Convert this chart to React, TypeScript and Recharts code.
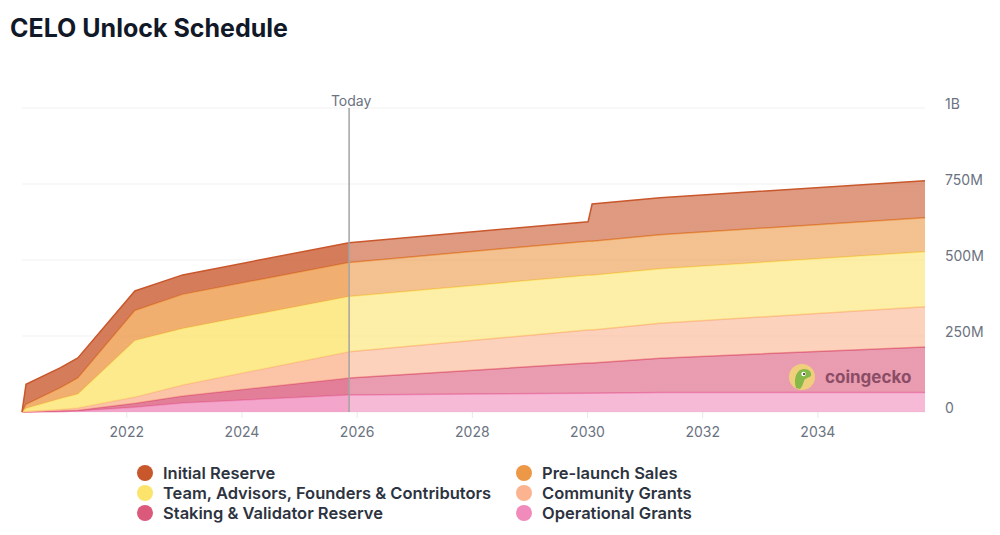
import React from "react";
import { AreaChart, Area, XAxis, YAxis, CartesianGrid, ReferenceLine } from "recharts";

// years (decimal) and unlocked tokens per allocation, in millions
const years = [2020.18, 2020.25, 2020.85, 2021.15, 2022.14, 2022.97, 2025.86, 2030.01, 2030.08, 2031.26, 2035.86];
const operationalGrants = [0, 0.5, 2, 3, 16, 30, 56, 62, 62, 64, 64];
const stakingReserve = [0, 0.5, 2, 3, 13, 23, 56, 99, 99, 113, 150];
const communityGrants = [0, 1, 4, 7, 20, 36, 86, 109, 109, 115, 132];
const teamAdvisors = [0, 10, 36, 46, 186, 186, 182, 180, 180, 179, 181];
const preLaunchSales = [0, 13, 36, 53, 99, 112, 112, 112, 112, 112, 112];
const initialReserve = [0, 66, 66, 66, 64, 64, 65, 64, 122, 122, 122];

const xTicks = [2022, 2024, 2026, 2028, 2030, 2032, 2034];
const yTicks = [0, 250, 500, 750, 1000];
const today = 2025.86;

// bottom of the stack first
const series = [
  { key: "operational", name: "Operational Grants", color: "#f08bbb", values: operationalGrants },
  { key: "staking", name: "Staking & Validator Reserve", color: "#db5a7c", values: stakingReserve },
  { key: "community", name: "Community Grants", color: "#fbb48f", values: communityGrants },
  { key: "team", name: "Team, Advisors, Founders & Contributors", color: "#fce46c", values: teamAdvisors },
  { key: "prelaunch", name: "Pre-launch Sales", color: "#ec9847", values: preLaunchSales },
  { key: "initial", name: "Initial Reserve", color: "#c9572c", values: initialReserve },
];

const legendOrder = ["initial", "prelaunch", "team", "community", "staking", "operational"];

const data = years.map((year, i) => {
  const row: Record<string, number> = { year };
  series.forEach((s) => (row[s.key] = s.values[i]));
  return row;
});

const formatY = (v: number) => (v === 0 ? "0" : v >= 1000 ? `${v / 1000}B` : `${v}M`);

const YTick = (props: any) => {
  const { x, y, payload } = props;
  return (
    <text x={x} y={y - 5} dominantBaseline="central" textAnchor="start" fill="#6b7280" fontSize={14}>
      {formatY(payload.value)}
    </text>
  );
};

const TodayLabel = (props: any) => {
  const { viewBox } = props;
  return (
    <text x={viewBox.x + 2} y={viewBox.y - 2} textAnchor="middle" fill="#6b7280" fontSize={14}>
      Today
    </text>
  );
};

// where "today" falls inside the plotted x range, for the fill fade
const todayOffset = (today - years[0]) / (years[years.length - 1] - years[0]);

const App = () => {
  const legendItems = legendOrder.map((k) => series.find((s) => s.key === k)!);
  return (
    <div style={{ position: "absolute", left: 0, top: 0, width: 1000, height: 535, background: "#fff", fontFamily: "Inter, sans-serif" }}>
      <div style={{ position: "absolute", left: 10, top: 16, fontSize: 25, lineHeight: "24px", fontWeight: 700, color: "#111827" }}>
        CELO Unlock Schedule
      </div>

      <AreaChart
        width={1000}
        height={535}
        data={data}
        margin={{ top: 108, right: 15, bottom: 93, left: 22 }}
        style={{ fontFamily: "Inter, sans-serif" }}
      >
        <defs>
          {series.map((s) => (
            <linearGradient key={s.key} id={`fill-${s.key}`} x1="0" y1="0" x2="1" y2="0">
              <stop offset={0} stopColor={s.color} stopOpacity={0.78} />
              <stop offset={todayOffset} stopColor={s.color} stopOpacity={0.78} />
              <stop offset={todayOffset} stopColor={s.color} stopOpacity={0.6} />
              <stop offset={1} stopColor={s.color} stopOpacity={0.6} />
            </linearGradient>
          ))}
        </defs>
        <CartesianGrid vertical={false} stroke="#f1f1f1" />
        <XAxis
          dataKey="year"
          type="number"
          domain={[years[0], years[years.length - 1]]}
          ticks={xTicks}
          axisLine={false}
          tickLine={{ stroke: "#e8e8e8" }}
          tickSize={6}
          tickMargin={9}
          height={30}
          tick={{ fill: "#6b7280", fontSize: 14 }}
        />
        <YAxis
          orientation="right"
          domain={[0, 1000]}
          ticks={yTicks}
          axisLine={false}
          tickLine={false}
          tickSize={0}
          tickMargin={20}
          width={60}
          tick={<YTick />}
        />
        {series.map((s) => (
          <Area
            key={s.key}
            type="linear"
            dataKey={s.key}
            name={s.name}
            stackId="1"
            stroke={s.color}
            strokeWidth={1.5}
            fill={`url(#fill-${s.key})`}
            fillOpacity={1}
            dot={false}
            activeDot={false}
            isAnimationActive={false}
          />
        ))}
        <ReferenceLine x={today} stroke="#a3a3a3" strokeWidth={1.5} label={<TodayLabel />} />
      </AreaChart>

      {/* watermark */}
      <div style={{ position: "absolute", left: 788, top: 363, display: "flex", alignItems: "center", gap: 9 }}>
        <svg width={28} height={28}>
          <circle cx={14} cy={14} r={13} fill="#f0cf7c" />
          <path d="M8 25 C5 15 9 6 16 6 C21 6 24 9 23 13 C20 15 17 15 16 18 C15 21 14 24 12 26 Z" fill="#86b84a" />
          <circle cx={15.5} cy={11} r={2.2} fill="#fff" />
          <circle cx={16} cy={11} r={1.1} fill="#333" />
        </svg>
        <span style={{ fontSize: 17, fontWeight: 700, color: "#8b4d66", lineHeight: "28px" }}>coingecko</span>
      </div>

      {/* legend */}
      <div
        style={{
          position: "absolute",
          left: 137,
          top: 463,
          display: "grid",
          gridTemplateColumns: "379px 300px",
          rowGap: 0,
        }}
      >
        {legendItems.map((s) => (
          <div key={s.key} style={{ display: "flex", alignItems: "center", height: 20 }}>
            <span style={{ width: 16, height: 16, borderRadius: 8, background: s.color, marginRight: 10, flexShrink: 0 }} />
            <span style={{ fontSize: 16.5, fontWeight: 600, color: "#2d3340", whiteSpace: "nowrap" }}>{s.name}</span>
          </div>
        ))}
      </div>
    </div>
  );
};

export default App;
